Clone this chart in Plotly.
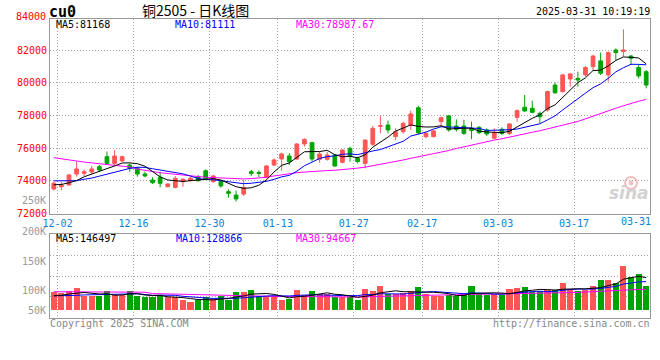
import plotly.graph_objects as go

# ---------------- data ----------------
dates = [
    "2024-12-02", "2024-12-03", "2024-12-04", "2024-12-05", "2024-12-06",
    "2024-12-09", "2024-12-10", "2024-12-11", "2024-12-12", "2024-12-13",
    "2024-12-16", "2024-12-17", "2024-12-18", "2024-12-19", "2024-12-20",
    "2024-12-23", "2024-12-24", "2024-12-25", "2024-12-26", "2024-12-27",
    "2024-12-30", "2024-12-31", "2025-01-02", "2025-01-03", "2025-01-06",
    "2025-01-07", "2025-01-08", "2025-01-09", "2025-01-10", "2025-01-13",
    "2025-01-14", "2025-01-15", "2025-01-16", "2025-01-17", "2025-01-20",
    "2025-01-21", "2025-01-22", "2025-01-23", "2025-01-24", "2025-01-27",
    "2025-02-05", "2025-02-06", "2025-02-07", "2025-02-10", "2025-02-11",
    "2025-02-12", "2025-02-13", "2025-02-14", "2025-02-17", "2025-02-18",
    "2025-02-19", "2025-02-20", "2025-02-21", "2025-02-24", "2025-02-25",
    "2025-02-26", "2025-02-27", "2025-02-28", "2025-03-03", "2025-03-04",
    "2025-03-05", "2025-03-06", "2025-03-07", "2025-03-10", "2025-03-11",
    "2025-03-12", "2025-03-13", "2025-03-14", "2025-03-17", "2025-03-18",
    "2025-03-19", "2025-03-20", "2025-03-21", "2025-03-24", "2025-03-25",
    "2025-03-26", "2025-03-27", "2025-03-28", "2025-03-31",
]

open_ = [73500, 73640, 73750, 74420, 74460, 74540, 74870, 75480, 75070, 75220,
         74970, 74770, 74420, 74050, 74220, 73640, 73600, 73950, 74010, 74260,
         74620, 73950, 73950, 73340, 73130, 73190, 74560, 74520, 74220, 74970,
         75340, 75520, 75340, 76260, 76340, 75320, 75320, 75580, 75140, 75990,
         75380, 75070, 76240, 77340, 77420, 76710, 77010, 77420, 78480, 76710,
         76710, 77630, 77980, 77360, 77360, 77220, 77280, 77120, 76610, 77160,
         76910, 77890, 78510, 78450, 78140, 78340, 79870, 79470, 80240, 80280,
         80490, 81000, 81350, 80490, 82020, 81920, 81650, 80940, 80690]
high = [73950, 73950, 74420, 75180, 74700, 74910, 74970, 75790, 75890, 75540,
        75070, 74870, 74560, 74220, 74560, 73850, 74300, 74160, 74260, 74360,
        74700, 74360, 74050, 73480, 73400, 74050, 74670, 74630, 74970, 75380,
        75730, 75690, 76300, 76600, 76400, 75790, 75790, 75650, 75930, 76100,
        75480, 76540, 77360, 77970, 77690, 77220, 77630, 78300, 78600, 77020,
        77120, 77930, 78040, 77770, 77730, 77630, 77360, 77220, 77220, 77280,
        77530, 78380, 79260, 78910, 78240, 79530, 80020, 80550, 80590, 80690,
        81040, 81710, 81860, 81920, 82120, 83280, 81710, 81140, 80790]
low = [73420, 73420, 73690, 74260, 74300, 74420, 74560, 74970, 74970, 75160,
       74560, 74260, 74220, 73810, 73600, 73600, 73540, 73640, 73950, 73950,
       74050, 73890, 73580, 72970, 72730, 73070, 74300, 74220, 74160, 74910,
       74620, 74970, 75280, 76100, 75180, 75110, 75240, 74870, 75070, 75180,
       75070, 74770, 76140, 76910, 76910, 76500, 76910, 77120, 76850, 76610,
       76670, 77320, 77020, 77020, 76810, 76550, 76870, 76750, 76550, 76810,
       76810, 77630, 78240, 78140, 77530, 78240, 79320, 79400, 79770, 79770,
       80390, 80790, 80490, 80080, 81370, 81610, 81100, 80280, 79670]
close = [73850, 73740, 74360, 74730, 74560, 74730, 74670, 75070, 75520, 75480,
         74770, 74420, 74300, 73890, 73850, 73810, 74160, 74100, 74160, 74010,
         74100, 74300, 73690, 73240, 72890, 73600, 74460, 74460, 74910, 75280,
         75650, 75180, 76260, 76540, 75340, 75650, 75580, 74910, 75890, 75520,
         75180, 76500, 77220, 77380, 77120, 77010, 77520, 78100, 76950, 76910,
         77060, 77870, 77120, 77160, 76910, 77080, 76950, 76870, 76950, 76910,
         77490, 78300, 78280, 78200, 77930, 79470, 79400, 80490, 80550, 80180,
         80940, 81650, 80590, 81860, 81860, 82020, 81510, 80430, 79870]

ma5 = [73760, 73780, 73880, 74020, 74248, 74424, 74610, 74752, 74910, 75094,
       75102, 75052, 74898, 74572, 74246, 74054, 74002, 73962, 74016, 74048,
       74106, 74134, 74052, 73868, 73644, 73544, 73576, 73730, 74064, 74542,
       74952, 75096, 75456, 75782, 75794, 75794, 75874, 75604, 75474, 75510,
       75416, 75600, 76062, 76360, 76680, 77046, 77250, 77426, 77340, 77298,
       77307, 77378, 77181, 77223, 77224, 77228, 77044, 76995, 76954, 76954,
       77036, 77305, 77587, 77836, 78040, 78436, 78657, 79098, 79567, 80017,
       80311, 80760, 80781, 81042, 81377, 81594, 81565, 81532, 81168]
ma10 = [74000, 74000, 74000, 74010, 74100, 74170, 74290, 74420, 74550, 74671,
        74763, 74831, 74825, 74741, 74670, 74578, 74527, 74430, 74294, 74147,
        74080, 74068, 74007, 73942, 73846, 73825, 73855, 73891, 73966, 74093,
        74248, 74336, 74593, 74923, 75168, 75373, 75485, 75530, 75628, 75652,
        75605, 75737, 75833, 75917, 76095, 76231, 76425, 76744, 76848, 76987,
        77175, 77312, 77302, 77282, 77261, 77267, 77211, 77088, 77088, 77089,
        77132, 77175, 77291, 77395, 77497, 77736, 77981, 78342, 78702, 79029,
        79374, 79709, 79939, 80285, 80677, 80932, 81143, 81137, 81111]
ma30 = [75420, 75350, 75250, 75180, 75150, 75100, 75050, 74990, 74950, 74900,
        74850, 74720, 74640, 74560, 74500, 74450, 74400, 74350, 74300, 74260,
        74220, 74200, 74170, 74140, 74120, 74120, 74140, 74170, 74220, 74300,
        74380, 74440, 74500, 74540, 74580, 74610, 74630, 74650, 74680, 74720,
        74780, 74840, 74920, 75000, 75090, 75180, 75280, 75380, 75470, 75550,
        75640, 75750, 75860, 75980, 76090, 76200, 76310, 76400, 76500, 76580,
        76690, 76790, 76890, 76980, 77070, 77180, 77290, 77400, 77510, 77640,
        77800, 77970, 78130, 78300, 78450, 78600, 78750, 78880, 78988]

volume = [79900, 76900, 84300, 100600, 62200, 62200, 62200, 87300, 69500, 68100,
          87300, 65100, 57700, 59200, 69500, 57700, 59200, 44600, 38600, 47500,
          57700, 50500, 65100, 47500, 82800, 79900, 91700, 65100, 62200, 62200,
          44600, 50500, 91700, 69500, 87300, 74000, 74000, 59200, 59200, 59200,
          44600, 96200, 87300, 109500, 74000, 74000, 76900, 87300, 105100, 74000,
          65100, 65100, 68100, 65100, 74000, 109500, 74000, 68100, 71100, 68100,
          96200, 100600, 105100, 82800, 87300, 91700, 91700, 122700, 91700, 88000,
          90000, 108000, 135000, 136000, 122700, 195100, 146500, 162800, 109500]
vma5 = [66000, 68000, 74000, 78000, 80800, 77200, 74300, 74900, 68700, 69900,
        74900, 75500, 69500, 67500, 67800, 61800, 60700, 58000, 53900, 49500,
        49500, 47800, 51900, 53700, 60700, 65200, 73400, 73400, 76300, 72200,
        65200, 56900, 62200, 63700, 68700, 74600, 79300, 72800, 70700, 65100,
        59200, 63700, 69300, 79400, 82300, 88200, 84300, 84300, 83500, 83500,
        81700, 79300, 75500, 67500, 67500, 76400, 78100, 78100, 79300, 78200,
        75500, 80800, 88200, 90600, 94400, 93500, 91700, 95200, 97000, 97200,
        96800, 100100, 102500, 111400, 118300, 139400, 147100, 152600, 146497]
vma10 = [66000, 66000, 67000, 68000, 70000, 71000, 72000, 74000, 75000, 75300,
         76100, 74900, 72200, 68100, 68800, 68400, 68100, 63800, 60700, 58600,
         55700, 54200, 55000, 53800, 55100, 57300, 60600, 62600, 65000, 66500,
         65200, 65200, 67800, 70000, 70500, 69900, 68100, 67500, 67200, 66900,
         66900, 71500, 71100, 75100, 73700, 73700, 74000, 76800, 81400, 82900,
         84900, 81800, 79900, 75500, 75500, 79000, 78700, 76800, 73400, 72800,
         75900, 79500, 83200, 85000, 86300, 84500, 86300, 91700, 93800, 95800,
         95200, 95900, 98900, 104200, 107800, 118100, 123600, 127600, 128866]
vma30 = [84000, 84000, 84000, 84000, 83500, 83500, 83000, 83000, 83000, 82500,
         82500, 82000, 82000, 76000, 75000, 74000, 73000, 72000, 71000, 70000,
         69000, 68000, 67000, 66500, 66000, 65500, 65000, 64500, 64000, 63500,
         63000, 62500, 62000, 62000, 61500, 61500, 61000, 61000, 61000, 61000,
         61000, 62000, 63000, 64000, 65000, 66000, 67000, 68000, 68500, 69000,
         69500, 70000, 70500, 71000, 71500, 72000, 72500, 73000, 73500, 74000,
         74500, 74500, 75000, 75500, 76000, 76500, 77000, 77500, 79000, 81000,
         83000, 85000, 87000, 89000, 90500, 92000, 93000, 94000, 94667]

tick_dates = ["2024-12-02", "2024-12-16", "2024-12-30", "2025-01-13", "2025-01-27",
              "2025-02-17", "2025-03-03", "2025-03-17", "2025-03-31"]
tick_labels = ["12-02", "12-16", "12-30", "01-13", "01-27",
               "02-17", "03-03", "03-17", "03-31"]
price_ticks = [72000, 74000, 76000, 78000, 80000, 82000]

# ---------------- styling ----------------
RED = "#FF5555"
GREEN = "#00A400"
MONO = "DejaVu Sans Mono"
GRID = "#A8A8A8"
BORDER = "#999999"
XLAB = "#0A7FD6"

# layout geometry (pixel -> paper)
L, R, T, B = 50, 650, 19, 318
def px(x):
    return (x - L) / (R - L)
def py(y):
    return (B - y) / (B - T)

idx = list(range(len(dates)))
pos = {d: i for i, d in enumerate(dates)}
grid_x = [pos[d] + 0.5 for d in tick_dates]
vol_colors = [RED if c >= o else GREEN for o, c in zip(open_, close)]

fig = go.Figure()
fig.add_trace(go.Candlestick(
    x=idx, open=open_, high=high, low=low, close=close,
    increasing=dict(line=dict(color=RED, width=1), fillcolor=RED),
    decreasing=dict(line=dict(color=GREEN, width=1), fillcolor=GREEN),
    whiskerwidth=0, xaxis="x", yaxis="y", showlegend=False))
for ser, col in ((ma30, "#FF00FF"), (ma10, "#0000FF"), (ma5, "#000000")):
    fig.add_trace(go.Scatter(x=idx, y=ser, mode="lines",
                             line=dict(color=col, width=1),
                             xaxis="x", yaxis="y", showlegend=False))

fig.add_trace(go.Bar(x=idx, y=volume, marker=dict(color=vol_colors, line=dict(width=0)),
                     width=0.8, xaxis="x2", yaxis="y2", showlegend=False))
for ser, col in ((vma30, "#FF00FF"), (vma10, "#0000FF"), (vma5, "#000000")):
    fig.add_trace(go.Scatter(x=idx, y=ser, mode="lines",
                             line=dict(color=col, width=1),
                             xaxis="x2", yaxis="y2", showlegend=False))

axis_common = dict(showline=True, mirror=True, linecolor=BORDER, linewidth=1,
                   showgrid=True, gridcolor=GRID, griddash="1px,2px", gridwidth=1,
                   zeroline=False, ticks="")

fig.update_layout(
    width=660, height=360,
    margin=dict(l=L, r=660 - R, t=T, b=360 - B),
    paper_bgcolor="white", plot_bgcolor="white",
    showlegend=False, bargap=0,
    xaxis=dict(domain=[0, 1], range=[-0.5, len(dates) - 0.5], anchor="y",
               tickmode="array", tickvals=grid_x,
               ticktext=tick_labels[:-1] + [""],
               tickfont=dict(family=MONO, size=10, color=XLAB),
               rangeslider=dict(visible=False), **axis_common),
    yaxis=dict(domain=[py(213.5), 1], range=[72000, 83917], anchor="x",
               tickmode="array", tickvals=price_ticks,
               ticktext=[str(v) for v in price_ticks],
               tickfont=dict(family=MONO, size=10, color="#FF0000"), **axis_common),
    xaxis2=dict(domain=[0, 1], range=[-0.5, len(dates) - 0.5], anchor="y2",
                matches="x", tickmode="array", tickvals=grid_x,
                showticklabels=False, **axis_common),
    yaxis2=dict(domain=[0, py(234.3)], range=[-32300, 338500], anchor="x2",
                tickmode="array", tickvals=[65000, 153300, 245900],
                showticklabels=False, **axis_common),
)

def text(x, y, s, color="#000000", anchor="left", size=10, family=MONO, bold=False, italic=False):
    if bold:
        s = "<b>" + s + "</b>"
    if italic:
        s = "<i>" + s + "</i>"
    fig.add_annotation(x=px(x), y=py(y), xref="paper", yref="paper", text=s,
                       showarrow=False, xanchor=anchor, yanchor="middle",
                       font=dict(family=family, size=size, color=color),
                       borderpad=0)

text(48, 12, "cu0", bold=True, size=15)
text(195, 10, "铜2505 - 日K线图", anchor="center", size=14, family="Noto Sans CJK SC")
text(651, 11.5, "2025-03-31 10:19:19", anchor="right")
text(47, 16.3, "84000", color="#FF0000", anchor="right")
text(47, 200, "250K", color="#999999", anchor="right")
for lab, yy in (("200K", 231), ("150K", 261), ("100K", 290), ("50K", 310)):
    text(47, yy, lab, color="#999999", anchor="right")

text(55, 24.5, "MA5:%d" % ma5[-1], color="#000000")
text(174, 24.5, "MA10:%d" % ma10[-1], color="#0000FF")
text(295, 24.5, "MA30:78987.67", color="#FF00FF")
text(55, 238.5, "MA5:%d" % vma5[-1], color="#000000")
text(175, 238.5, "MA10:%d" % vma10[-1], color="#0000FF")
text(295, 238.5, "MA30:%d" % vma30[-1], color="#FF00FF")

text(652, 221, tick_labels[-1], color=XLAB, anchor="right")
text(49, 323.5, "Copyright 2025 SINA.COM", color="#888888")
text(651, 323.5, "http://finance.sina.com.cn", color="#888888", anchor="right")
text(650, 193, "sina", color="#D2D2D2", anchor="right", size=17,
     family="DejaVu Sans", bold=True, italic=True)

# faint sina eye logo (decoration)
fig.add_shape(type="circle", xref="paper", yref="paper",
              x0=px(625), x1=px(637), y0=py(189), y1=py(177),
              line=dict(color="#F3BDBD", width=2), fillcolor="rgba(0,0,0,0)", layer="below")
fig.add_shape(type="circle", xref="paper", yref="paper",
              x0=px(629), x1=px(633), y0=py(185), y1=py(181),
              line=dict(color="#F3BDBD", width=1), fillcolor="#F3BDBD", layer="below")

fig.write_html("out.html", config={"displayModeBar": False},
               post_script="document.body.style.margin='0';document.body.style.overflow='hidden';")
